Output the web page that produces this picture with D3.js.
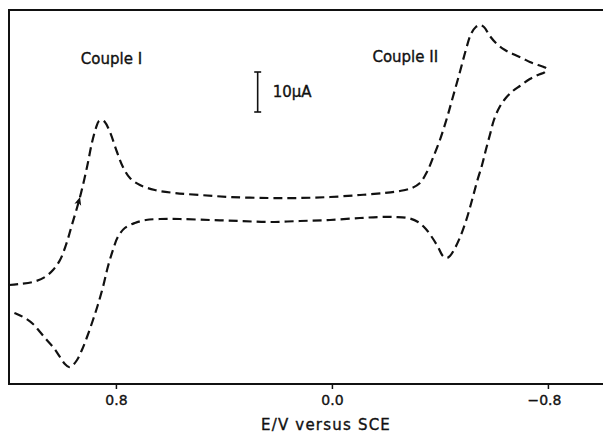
<!DOCTYPE html>
<html>
<head>
<meta charset="utf-8">
<script src="https://cdn.jsdelivr.net/npm/d3@7"></script>
<style>
  html, body { margin: 0; padding: 0; background: #fff; }
  svg { display: block; font-family: "DejaVu Sans", sans-serif; }
  svg text { stroke: #111; stroke-width: 0.35px; }
</style>
</head>
<body>
<div id="chart"></div>
<script>
// cyclic voltammogram: potential (V vs SCE) and current (µA, cathodic up)
const potential = [
  1.196, 1.156, 1.107, 1.063, 1.033, 1.007, 0.985, 0.963, 0.933, 0.907, 0.889, 0.874, 0.863, 0.852,
  0.841, 0.822, 0.796, 0.774, 0.748, 0.711, 0.656, 0.581, 0.489, 0.378, 0.233, 0.119, 0.007, -0.104,
  -0.196, -0.252, -0.296, -0.326, -0.352, -0.374, -0.400, -0.426, -0.448, -0.474, -0.496, -0.515,
  -0.533, -0.548, -0.563, -0.585, -0.611, -0.641, -0.670, -0.704, -0.733, -0.763, -0.785, -0.796,
  -0.789, -0.763, -0.733, -0.696, -0.670, -0.641, -0.619, -0.600, -0.585, -0.570, -0.556, -0.537,
  -0.519, -0.500, -0.478, -0.456, -0.437, -0.426, -0.411, -0.393, -0.370, -0.348, -0.319, -0.281,
  -0.233, -0.178, -0.104, 0.007, 0.119, 0.233, 0.341, 0.452, 0.563, 0.637, 0.689, 0.730, 0.767,
  0.793, 0.811, 0.830, 0.848, 0.867, 0.885, 0.907, 0.926, 0.944, 0.963, 0.974, 0.989, 1.007, 1.030,
  1.056, 1.081, 1.107, 1.137, 1.167, 1.196
];
const current = [
  -21.25, -21, -20.5, -19.25, -17.5, -15, -11.25, -6.25, 0.75, 8.25, 14.25, 18, 19.75, 20,
  19.5, 17, 12, 8.25, 5.5, 3.75, 2.5, 1.75, 1.25, 0.75, 0.5, 0.5, 0.75, 1.25,
  1.75, 2.25, 3, 4.25, 7, 10.5, 15, 20.5, 25.75, 32, 37.5, 41.5,
  43.25, 43.75, 43.25, 41, 39, 37.5, 36.5, 35.5, 34.5, 33.75, 33.25, 32.75,
  32, 31.25, 30.25, 28.5, 27.25, 25.25, 23, 20, 16.25, 12.5, 8.75, 4.5,
  0, -4.5, -8.75, -12, -14, -14.5, -14, -11.75, -9.25, -7.25, -5.5, -4.5,
  -4.25, -4.25, -4.5, -5, -5.25, -5.5, -5.25, -5, -4.75, -4.75, -5, -5.75, -7,
  -9.25, -12.5, -16.75, -21.75, -26.25, -30, -34.25, -37.5, -40, -41.5, -41.75, -41, -39.25, -37,
  -35, -33, -31, -29.5, -28.5, -27.75
];
const tickValues = [0.8, 0.0, -0.8];
const tickLabels = ['0.8', '0.0', '\u22120.8'];
const coupleLabels = [{ text: 'Couple I', E: 0.93, i: 34 }, { text: 'Couple II', E: -0.15, i: 34.5 }];
const scaleBar = { E: 0.275, from: 22, to: 32, label: '10\u00b5A' };
const arrowIndex = 8;

const width = 603, height = 434;
const svg = d3.select('#chart').append('svg').attr('width', width).attr('height', height);

const x = d3.scaleLinear().domain([1.196, -1.004]).range([9, 603]);
const y = d3.scaleLinear().domain([-46, 47.5]).range([384, 10]);

// frame: left, top, bottom
svg.append('path')
  .attr('d', `M${width},${y(47.5)}H${x(1.196)}V${y(-46)}H${width}`)
  .attr('fill', 'none').attr('stroke', '#111').attr('stroke-width', 2);

const axis = svg.append('g').attr('transform', `translate(0,${y(-46)})`)
  .call(d3.axisBottom(x).tickValues(tickValues).tickSize(5).tickFormat((d, k) => tickLabels[k]));
axis.select('.domain').remove();
axis.selectAll('line').attr('stroke', '#111').attr('stroke-width', 1.5);
axis.selectAll('text').attr('font-size', 14).attr('font-family', '"DejaVu Sans", sans-serif')
  .attr('fill', '#111').attr('dy', '0.95em').attr('dx', (d, k) => k === 2 ? -4 : 0);

svg.append('text').attr('x', 326).attr('y', 430).attr('text-anchor', 'middle')
  .attr('font-size', 15).attr('letter-spacing', 1.2).attr('fill', '#111').text('E/V versus SCE');

const pts = potential.map((E, k) => [E, current[k]]);
const line = d3.line().x(d => x(d[0])).y(d => y(d[1])).curve(d3.curveCatmullRom.alpha(0.5));
svg.append('path').datum(pts).attr('d', line)
  .attr('fill', 'none').attr('stroke', '#111').attr('stroke-width', 2.2)
  .attr('stroke-dasharray', '9,5');

// scan direction arrow on the rising branch of couple I
const p0 = pts[arrowIndex - 1], p1 = pts[arrowIndex];
const ax = x(p1[0]), ay = y(p1[1]);
const ang = Math.atan2(y(p1[1]) - y(p0[1]), x(p1[0]) - x(p0[0])) * 180 / Math.PI;
svg.append('path').attr('d', 'M0,0L-8,-3.5L-6,0L-8,3.5Z')
  .attr('transform', `translate(${ax},${ay}) rotate(${ang})`).attr('fill', '#111');

svg.selectAll('.couple').data(coupleLabels).join('text').attr('class', 'couple')
  .attr('x', d => x(d.E)).attr('y', d => y(d.i))
  .attr('font-size', 15).attr('fill', '#111').text(d => d.text);

// 10 µA scale bar
const sb = svg.append('g').attr('stroke', '#111').attr('stroke-width', 1.6);
sb.append('line').attr('x1', x(scaleBar.E)).attr('x2', x(scaleBar.E)).attr('y1', y(scaleBar.from)).attr('y2', y(scaleBar.to));
[scaleBar.from, scaleBar.to].forEach(v => sb.append('line')
  .attr('x1', x(scaleBar.E) - 3.5).attr('x2', x(scaleBar.E) + 3.5).attr('y1', y(v)).attr('y2', y(v)));
svg.append('text').attr('x', x(scaleBar.E) + 15).attr('y', y((scaleBar.from + scaleBar.to) / 2) + 5)
  .attr('font-size', 15).attr('fill', '#111').text(scaleBar.label);
</script>
</body>
</html>
